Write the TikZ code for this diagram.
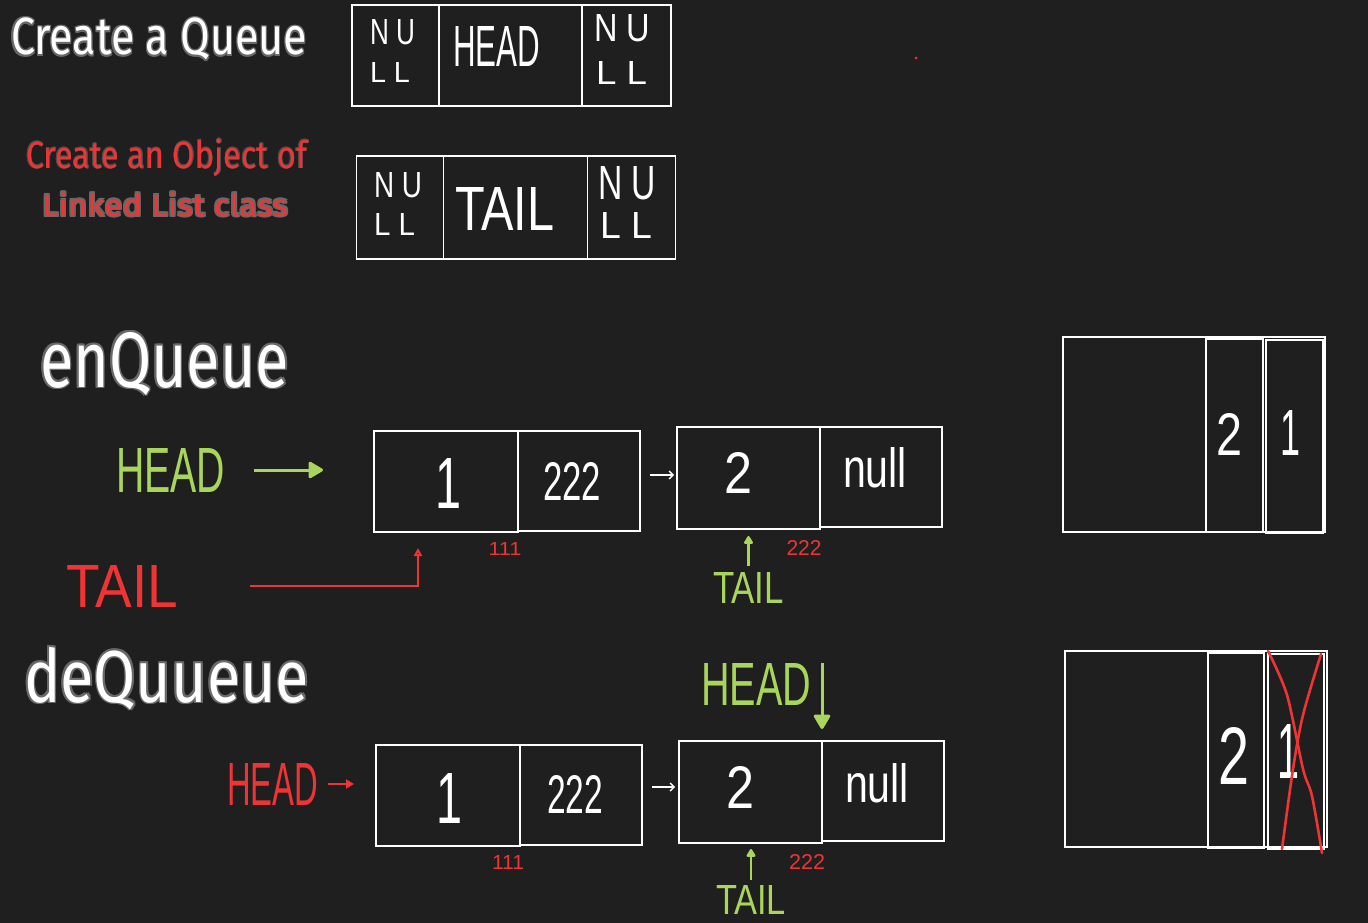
\documentclass[tikz,border=0pt]{standalone}
\usepackage{fontspec}
\usepackage{graphicx}
\setmainfont{Liberation Sans}
\newfontfamily\titlef{Fira Sans}
\usetikzlibrary{arrows.meta}
\definecolor{bg}{RGB}{31,31,31}
\definecolor{hgreen}{RGB}{168,214,92}
\definecolor{hred}{RGB}{238,52,52}
\definecolor{shade}{RGB}{105,105,105}
\newcommand\fitwh[3]{\resizebox{#1pt}{#2pt}{#3}}
\newcommand\olay[4]{\makebox[0pt][l]{\kern#1\raisebox{#2}{\color{#3}#4}}}
\newcommand\outl[4]{%
  \olay{#1}{0pt}{#2}{#4}\olay{-#1}{0pt}{#2}{#4}\olay{0pt}{#1}{#2}{#4}\olay{0pt}{-#1}{#2}{#4}%
  \olay{#1}{-#1}{#2}{#4}\olay{-#1}{-#1}{#2}{#4}\olay{#1}{#1}{#2}{#4}\olay{-#1}{#1}{#2}{#4}%
  {\color{#3}#4}}
\begin{document}
\begin{tikzpicture}[x=1pt,y=-1pt,
  cell/.style={draw=white, line width=1.6pt, inner sep=0pt, outer sep=0pt},
  scell/.style={draw=white, line width=1.2pt, inner sep=0pt, outer sep=0pt},
  lbl/.style={inner sep=0pt, outer sep=0pt, anchor=base west},
  hand/.style={inner sep=0pt, outer sep=0pt, anchor=base west, text=white},
  handc/.style={inner sep=0pt, outer sep=0pt, anchor=base, text=white},
  garrow/.style={draw=hgreen, line width=3pt, -{Triangle[length=16pt,width=18pt,round]}},
  gup/.style={draw=hgreen, line width=2.5pt, -{Triangle[length=9pt,width=10pt,round]}},
  rarrow/.style={draw=hred, line width=2.2pt, -{Triangle[length=8pt,width=9pt]}},
  rline/.style={draw=hred, line width=2pt, -{Triangle[open,length=8pt,width=8pt]}},
  warrow/.style={draw=white, line width=1.4pt, -{Straight Barb[length=4pt,width=8pt]}},
  redx/.style={draw=hred, line width=2.6pt, line cap=round}]
\useasboundingbox (0,0) rectangle (1368,923);
\fill[bg] (0,0) rectangle (1368,923);

% ---- titles
\node[lbl] (t1) at (11,55) {\titlef\fitwh{296}{38}{\outl{.025em}{shade}{white}{Create a Queue}}};
\node[lbl] (t2a) at (26,168) {\titlef\fitwh{281}{30}{\outl{.015em}{black!70}{hred}{Create an Object of}}};
\node[lbl] (t2b) at (42,216) {\titlef\fitwh{246}{25}{\outl{.04em}{shade}{hred}{Linked List class}}};
\node[lbl] (t3) at (40,387) {\titlef\fitwh{249}{57}{\outl{.025em}{shade}{white}{enQueue}}};
\node[lbl] (t4) at (24,702) {\titlef\fitwh{285}{57}{\outl{.025em}{shade}{white}{deQuueue}}};

% ---- queue object (HEAD)
\node[cell, minimum width=87, minimum height=101] (qa) at (395.5,55.5) {};
\node[cell, minimum width=143, minimum height=101] (qb) at (510.5,55.5) {};
\node[cell, minimum width=89, minimum height=101] (qc) at (626.5,55.5) {};
\node[hand] (qanu) at (370,45) {\fitwh{45}{25}{N U}};
\node[hand] (qall) at (370,83) {\fitwh{40}{20}{L L}};
\node[hand] (qbt) at (453,67) {\fitwh{87}{40}{HEAD}};
\node[hand] (qcnu) at (594,42) {\fitwh{56}{27}{N U}};
\node[hand] (qcll) at (596,85) {\fitwh{51}{23}{L L}};

% ---- linked list object (TAIL)
\node[cell, minimum width=87, minimum height=103] (ta) at (400,207.5) {};
\node[cell, minimum width=144, minimum height=103] (tb) at (515.5,207.5) {};
\node[cell, minimum width=88, minimum height=103] (tc) at (631.5,207.5) {};
\node[hand] (tanu) at (374,197) {\fitwh{48}{25}{N U}};
\node[hand] (tall) at (374,235) {\fitwh{41}{22}{L L}};
\node[hand] (tbt) at (455,230) {\fitwh{99}{43}{TAIL}};
\node[hand] (tcnu) at (598,200) {\fitwh{58}{33}{N U}};
\node[hand] (tcll) at (600,238) {\fitwh{52}{26}{L L}};

\fill[hred] (916,58) circle (1.5);

% ---- enQueue list
\node[cell, minimum width=144, minimum height=101] (n1) at (446,481.5) {};
\node[cell, minimum width=122, minimum height=100] (n1p) at (579,481) {};
\node[cell, minimum width=143, minimum height=102] (n2) at (748.5,478) {};
\node[cell, minimum width=122, minimum height=100] (n2p) at (881,477) {};
\node[handc] (v1) at (448,508) {\fitwh{26}{50}{1}};
\node[handc] (v1p) at (572,500) {\fitwh{58}{38}{222}};
\node[handc] (v2) at (738,493) {\fitwh{28}{41}{2}};
\node[handc] (v2p) at (875,487) {\fitwh{64}{40}{null}};
\node[hand, text=hgreen] (hgA) at (116,492) {\fitwh{109}{44}{HEAD}};
\node[hand, text=hred] (trA) at (66,607) {\fitwh{112}{42}{TAIL}};
\node[handc, text=hred] (aA1) at (505,555) {\fitwh{33}{13}{111}};
\node[handc, text=hred] (aA2) at (804,555) {\fitwh{35}{15}{222}};
\node[hand, text=hgreen] (tgA) at (713,603) {\fitwh{71}{31}{TAIL}};
\coordinate (tA) at (418,548);

\draw[garrow, shorten <=29pt, shorten >=51pt] (hgA.east) -- (hgA.east -| n1.west);
\draw[rline, shorten <=72pt] (trA.east) -| (tA);
\draw[gup, shorten <=6pt, shorten >=7pt] (tgA.north) -- (tgA.north |- n2.south);
\draw[warrow, shorten <=10pt, shorten >=3pt] ([yshift=6pt]n1p.east) -- ([yshift=3pt]n2.west);

% ---- enQueue stack
\node[scell, minimum width=262, minimum height=195] (s1) at (1194,434.5) {};
\node[scell, minimum width=57, minimum height=193] (s1b) at (1234.5,435.5) {};
\node[scell, minimum width=57, minimum height=193] (s1a) at (1294.5,436.5) {};
\node[handc] (s1bt) at (1229,455) {\fitwh{26}{42}{2}};
\node[handc] (s1at) at (1290,455) {\fitwh{20}{45}{1}};

% ---- deQueue list
\node[cell, minimum width=144, minimum height=101] (n3) at (448,795.5) {};
\node[cell, minimum width=122, minimum height=100] (n3p) at (581,795) {};
\node[cell, minimum width=143, minimum height=102] (n4) at (750.5,792) {};
\node[cell, minimum width=122, minimum height=100] (n4p) at (883,791) {};
\node[handc] (v3) at (449,823) {\fitwh{26}{50}{1}};
\node[handc] (v3p) at (575,813) {\fitwh{56}{38}{222}};
\node[handc] (v4) at (740,808) {\fitwh{28}{42}{2}};
\node[handc] (v4p) at (877,802) {\fitwh{64}{39}{null}};
\node[hand, text=hgreen] (hgB) at (701,705) {\fitwh{110}{42}{HEAD}};
\node[hand, text=hred] (hrB) at (227,805) {\fitwh{91}{42}{HEAD}};
\node[handc, text=hred] (aB1) at (508,869) {\fitwh{32}{14}{111}};
\node[handc, text=hred] (aB2) at (807,869) {\fitwh{36}{15}{222}};
\node[hand, text=hgreen] (tgB) at (716,914) {\fitwh{70}{29}{TAIL}};

\draw[garrow, shorten >=12pt] (hgB.north east -| n4p.west) -- (n4p.north west);
\draw[rarrow, shorten <=10pt, shorten >=22pt] (hrB.east) -- (hrB.east -| n3.west);
\draw[gup, shorten <=5pt, shorten >=6pt] (tgB.north) -- (tgB.north |- n4.south);
\draw[warrow, shorten <=10pt, shorten >=4pt] ([yshift=8pt]n3p.east) -- ([yshift=5pt]n4.west);

% ---- deQueue stack
\node[scell, minimum width=262, minimum height=196] (s2) at (1196,749) {};
\node[scell, minimum width=56, minimum height=195] (s2b) at (1236,750.5) {};
\node[scell, minimum width=56, minimum height=195] (s2a) at (1296,751.5) {};
\node[handc] (s2bt) at (1234,784) {\fitwh{31}{57}{2}};
\node[handc] (s2at) at (1288,778) {\fitwh{22}{54}{1}};
\draw[redx] plot[smooth] coordinates {(1268,651) (1287,695) (1303,769) (1312,796) (1322,853)};
\draw[redx] plot[smooth] coordinates {(1321,654) (1303,715) (1293,769) (1282,849)};
\end{tikzpicture}
\end{document}
